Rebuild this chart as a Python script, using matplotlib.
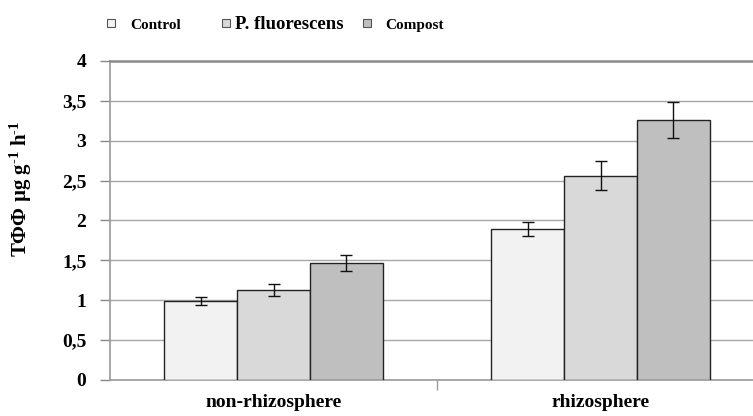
import numpy as np
import matplotlib.pyplot as plt
from matplotlib.patches import Rectangle
from matplotlib.ticker import FixedLocator, FuncFormatter

plt.rcParams["font.family"] = ["Liberation Serif", "DejaVu Serif"]
plt.rcParams["font.weight"] = "bold"
plt.rcParams["axes.labelweight"] = "bold"
plt.rcParams["mathtext.fontset"] = "custom"
plt.rcParams["mathtext.rm"] = "Liberation Serif:bold"
plt.rcParams["mathtext.bf"] = "Liberation Serif:bold"
plt.rcParams["mathtext.it"] = "Liberation Serif:bold"

categories = ["non-rhizosphere", "rhizosphere"]
series = ["Control", "P. fluorescens", "Compost"]
values = {
    "Control": [0.99, 1.89],
    "P. fluorescens": [1.13, 2.56],
    "Compost": [1.47, 3.26],
}
errors = {
    "Control": [0.05, 0.09],
    "P. fluorescens": [0.08, 0.18],
    "Compost": [0.10, 0.23],
}
colors = ["#f2f2f2", "#d9d9d9", "#bfbfbf"]
legend_sizes = [11, 13.5, 11]
yticks = [0, 0.5, 1, 1.5, 2, 2.5, 3, 3.5, 4]

fig = plt.figure(figsize=(7.53, 4.16), dpi=100)
fig.patch.set_facecolor("white")
# axes runs a little past the right edge, as in the source image
ax = fig.add_axes([110 / 753, 36 / 416, 654 / 753, 319 / 416])

x = np.arange(len(categories))
width = 0.223
for i, name in enumerate(series):
    ax.bar(x + (i - 1) * width, values[name], width, color=colors[i],
           edgecolor="#222222", linewidth=1.0, zorder=3,
           yerr=errors[name], capsize=4,
           error_kw=dict(ecolor="#111111", elinewidth=1.0, capthick=1.0, zorder=4))

ax.set_xlim(-0.5, 1.5)
ax.set_ylim(0, 4)
ax.yaxis.set_major_locator(FixedLocator(yticks))
ax.yaxis.set_major_formatter(FuncFormatter(lambda v, p: f"{v:g}".replace(".", ",")))
ax.tick_params(axis="y", length=7, width=1, color="#888888", pad=10, labelsize=14)
ax.grid(axis="y", color="#a6a6a6", linewidth=1.0, zorder=0)

ax.set_xticks(x)
ax.set_xticklabels(categories, fontsize=14)
ax.tick_params(axis="x", which="major", length=0, pad=10)
ax.set_xticks([0.5, 1.5], minor=True)
ax.tick_params(axis="x", which="minor", length=7, width=1, color="#999999")

for side in ["left", "bottom"]:
    ax.spines[side].set_color("#999999")
    ax.spines[side].set_linewidth(1.2)
ax.spines["top"].set_color("#8c8c8c")
ax.spines["top"].set_linewidth(1.8)
ax.spines["right"].set_visible(False)

ax.set_ylabel(r"ТФФ µg g$^{\text{-}1}$ h$^{\text{-}1}$", fontsize=15, fontweight="bold")
ax.yaxis.set_label_coords(-0.116, 0.6)

# legend across the top
lx = [107, 222, 363]
tx = [130, 235, 385]
for i, name in enumerate(series):
    fig.patches.append(Rectangle((lx[i] / 753, (416 - 27) / 416), 8 / 753, 8 / 416,
                                 transform=fig.transFigure, facecolor=colors[i],
                                 edgecolor="#555555", linewidth=0.8))
    fig.text(tx[i] / 753, (416 - 29) / 416, name,
             fontsize=legend_sizes[i], va="baseline", ha="left")

plt.savefig("out.png", dpi=100)
plt.close()
